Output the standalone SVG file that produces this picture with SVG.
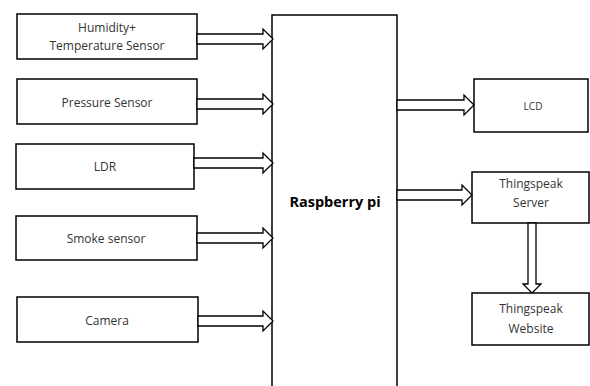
<svg xmlns="http://www.w3.org/2000/svg" width="590" height="386" viewBox="0 0 590 386">
<style>
.box{fill:#fff;stroke:#000;stroke-width:1.5}
.arr{fill:#fff;stroke:#000;stroke-width:1.3;stroke-linejoin:miter}
text{font-family:"Open Sans","Liberation Sans",sans-serif;font-size:12px;fill:#333;text-anchor:middle}
.b{font-weight:bold;font-size:14.5px;fill:#000}
.s{font-size:10px}
</style>
<rect width="590" height="386" fill="#fff"/>
<g id="humidity"><rect class="box" x="17" y="14" width="180" height="45"/><text x="107" y="32">Humidity+</text><text x="107" y="50">Temperature Sensor</text></g>
<g id="pressure"><rect class="box" x="17" y="79" width="180" height="45"/><text x="107" y="107">Pressure Sensor</text></g>
<g id="ldr"><rect class="box" x="16" y="144" width="178" height="45"/><text x="105" y="171">LDR</text></g>
<g id="smoke"><rect class="box" x="16" y="216" width="181" height="44"/><text x="106" y="243">Smoke sensor</text></g>
<g id="camera"><rect class="box" x="17" y="297" width="181" height="45"/><text x="107" y="325">Camera</text></g>
<g id="pi"><rect class="box" x="272" y="15" width="125" height="380"/><text class="b" x="335" y="207">Raspberry pi</text></g>
<g id="lcd"><rect class="box" x="474" y="79" width="114" height="53"/><text class="s" x="533" y="110">LCD</text></g>
<g id="server"><rect class="box" x="472" y="172" width="117" height="51"/><text x="531" y="188">Thingspeak</text><text x="531" y="207">Server</text></g>
<g id="website"><rect class="box" x="472" y="293" width="117" height="52"/><text x="531" y="313">Thingspeak</text><text x="531" y="333">Website</text></g>
<g id="connectors">
<polygon class="arr" points="197,34 263,34 263,29 273,39 263,49 263,44 197,44"/>
<polygon class="arr" points="197,99 263,99 263,94 273,104 263,114 263,109 197,109"/>
<polygon class="arr" points="194,158 263,158 263,153 273,163 263,173 263,168 194,168"/>
<polygon class="arr" points="197,233 263,233 263,228 273,238 263,248 263,243 197,243"/>
<polygon class="arr" points="198,316 263,316 263,311 273,321 263,331 263,326 198,326"/>
<polygon class="arr" points="397,100 464,100 464,95 474,105 464,115 464,110 397,110"/>
<polygon class="arr" points="397,190 462,190 462,185 472,195 462,205 462,200 397,200"/>
<polygon class="arr" points="528,223 536,223 536,284 541,284 532,293 523,284 528,284"/>
</g>
</svg>
